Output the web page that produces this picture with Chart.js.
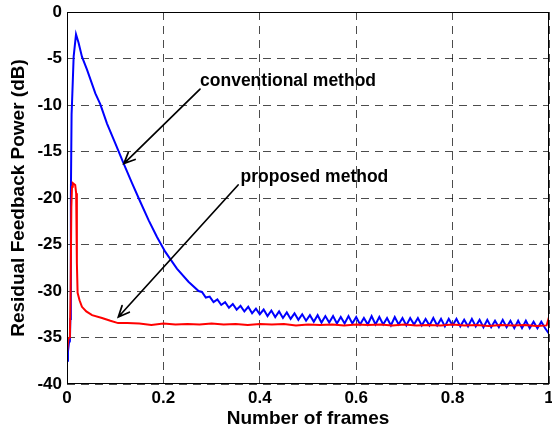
<!DOCTYPE html>
<html>
<head>
<meta charset="utf-8">
<script src="https://cdn.jsdelivr.net/npm/chart.js@4.4.1/dist/chart.umd.min.js"></script>
<style>
  html, body { margin: 0; padding: 0; background: #fff; }
  #wrap { width: 552px; height: 432px; position: relative; }
</style>
</head>
<body>
<div id="wrap"><canvas id="c" width="552" height="432"></canvas></div>
<script>
// ---- data ----
const xTicks = [0, 0.2, 0.4, 0.6, 0.8, 1];
const xTickLabels = ['0', '0.2', '0.4', '0.6', '0.8', '1'];
const yTicks = [-40, -35, -30, -25, -20, -15, -10, -5, 0];
const yTickLabels = ['-40', '-35', '-30', '-25', '-20', '-15', '-10', '-5', '0'];

const blueX = [0, 0.002, 0.004, 0.006, 0.007, 0.008, 0.0095, 0.0104, 0.0138, 0.0187,
  0.024, 0.031, 0.0415, 0.0588, 0.069, 0.083, 0.100, 0.1176, 0.1349, 0.152,
  0.1695, 0.1867, 0.204, 0.228, 0.252, 0.273,
  0.280, 0.288, 0.296, 0.304, 0.312, 0.320, 0.328, 0.336, 0.344, 0.352,
  0.360, 0.368, 0.376, 0.384, 0.392, 0.400, 0.408, 0.416, 0.424, 0.432,
  0.440, 0.448, 0.456, 0.464, 0.472, 0.480, 0.488, 0.496, 0.504, 0.512,
  0.520, 0.528, 0.536, 0.544, 0.552, 0.560, 0.568, 0.576, 0.584, 0.592,
  0.600, 0.608, 0.616, 0.624, 0.632, 0.640, 0.648, 0.656, 0.664, 0.672,
  0.680, 0.688, 0.696, 0.704, 0.712, 0.720, 0.728, 0.736, 0.744, 0.752,
  0.760, 0.768, 0.776, 0.784, 0.792, 0.800, 0.808, 0.816, 0.824, 0.832,
  0.840, 0.848, 0.856, 0.864, 0.872, 0.880, 0.888, 0.896, 0.904, 0.912,
  0.920, 0.928, 0.936, 0.944, 0.952, 0.960, 0.968, 0.976, 0.984, 0.992,
  1.000];
const blueY = [-37.5, -36.5, -35.6, -35.4, -33.0, -20.0, -11.0, -9.8, -4.8, -2.4,
  -3.3, -4.8, -6.2, -8.75, -9.9, -12.0, -14.1, -16.3, -18.4, -20.4,
  -22.4, -24.2, -25.8, -27.6, -29.0, -30.0,
  -30.1, -30.7, -30.6, -31.2, -30.9, -31.5, -31.2, -31.8, -31.4, -32.0,
  -31.6, -32.2, -31.7, -32.4, -31.9, -32.5, -32.0, -32.7, -32.1, -32.8,
  -32.2, -32.9, -32.3, -33.0, -32.4, -33.1, -32.5, -33.2, -32.6, -33.3,
  -32.6, -33.4, -32.7, -33.4, -32.7, -33.5, -32.8, -33.5, -32.7, -33.5,
  -32.8, -33.6, -32.9, -33.6, -32.7, -33.6, -32.8, -33.6, -32.9, -33.7,
  -32.8, -33.6, -32.9, -33.7, -32.9, -33.6, -32.9, -33.7, -33.0, -33.7,
  -32.9, -33.7, -33.0, -33.8, -33.0, -33.7, -33.0, -33.8, -33.1, -33.8,
  -33.0, -33.8, -33.1, -33.9, -33.1, -33.9, -33.2, -33.9, -33.1, -33.9,
  -33.2, -34.0, -33.2, -34.0, -33.2, -34.0, -33.3, -34.0, -33.3, -34.0,
  -34.6];

const redX = [0, 0.003, 0.006, 0.0075, 0.009, 0.0104, 0.012, 0.0145, 0.017, 0.019,
  0.0205, 0.022, 0.026, 0.031, 0.040, 0.052, 0.0726, 0.090, 0.106, 0.125,
  0.150, 0.175, 0.200, 0.225, 0.250, 0.275, 0.300, 0.325, 0.350, 0.375,
  0.400, 0.425, 0.450, 0.475, 0.500, 0.525, 0.550, 0.575, 0.600, 0.625,
  0.650, 0.675, 0.700, 0.725, 0.750, 0.775, 0.800, 0.825, 0.850, 0.875,
  0.900, 0.925, 0.950, 0.975, 0.995, 1.000];
const redY = [-36.6, -35.1, -35.0, -30.0, -21.0, -18.8, -18.4, -18.5, -18.6, -19.5,
  -27.0, -30.2, -31.0, -31.7, -32.2, -32.6, -32.9, -33.2, -33.45, -33.45,
  -33.5, -33.65, -33.5, -33.6, -33.55, -33.6, -33.5, -33.6, -33.55, -33.65,
  -33.55, -33.6, -33.55, -33.7, -33.6, -33.65, -33.6, -33.7, -33.6, -33.65,
  -33.6, -33.7, -33.6, -33.7, -33.65, -33.7, -33.6, -33.7, -33.65, -33.75,
  -33.65, -33.7, -33.65, -33.75, -33.7, -32.8];

// annotation texts and arrows (data coordinates)
const noteTexts = ['conventional method', 'proposed method'];
const noteTextAt = [[0.276, -8.0], [0.360, -18.3]];
const arrowFrom = [[0.276, -8.3], [0.355, -18.6]];
const arrowTo = [[0.118, -16.3], [0.1065, -32.8]];

// ---- chart ----
const FONT = '"Liberation Sans", Arial, Helvetica, sans-serif';

function toPoints(xs, ys) { return xs.map((x, i) => ({ x: x, y: ys[i] })); }

const framePlugin = {
  id: 'frame',
  afterDatasetsDraw(chart) {
    const { ctx, chartArea: a, scales } = chart;
    const sx = scales.x, sy = scales.y;
    ctx.save();
    // axes box
    ctx.strokeStyle = '#000';
    ctx.lineWidth = 1;
    ctx.strokeRect(Math.round(a.left) + 0.5, Math.round(a.top) + 0.5,
      Math.round(a.right - a.left) - 1, Math.round(a.bottom - a.top) - 1);
    // arrows
    ctx.lineWidth = 1.7;
    ctx.lineCap = 'round';
    for (let i = 0; i < arrowFrom.length; i++) {
      const x1 = sx.getPixelForValue(arrowFrom[i][0]);
      const y1 = sy.getPixelForValue(arrowFrom[i][1]);
      const x2 = sx.getPixelForValue(arrowTo[i][0]);
      const y2 = sy.getPixelForValue(arrowTo[i][1]);
      const ang = Math.atan2(y2 - y1, x2 - x1);
      const L = 12, w = 0.42;
      ctx.beginPath();
      ctx.moveTo(x1, y1);
      ctx.lineTo(x2, y2);
      ctx.moveTo(x2 - L * Math.cos(ang - w), y2 - L * Math.sin(ang - w));
      ctx.lineTo(x2, y2);
      ctx.lineTo(x2 - L * Math.cos(ang + w), y2 - L * Math.sin(ang + w));
      ctx.stroke();
    }
    // texts
    ctx.fillStyle = '#000';
    ctx.font = 'bold 17.5px ' + FONT;
    ctx.textBaseline = 'alphabetic';
    ctx.textAlign = 'left';
    for (let i = 0; i < noteTexts.length; i++) {
      ctx.fillText(noteTexts[i], sx.getPixelForValue(noteTextAt[i][0]),
        sy.getPixelForValue(noteTextAt[i][1]));
    }
    ctx.restore();
  }
};

new Chart(document.getElementById('c'), {
  type: 'line',
  data: {
    datasets: [
      { label: 'proposed method', data: toPoints(redX, redY), borderColor: '#ff0000',
        borderWidth: 2, pointRadius: 0, tension: 0, fill: false },
      { label: 'conventional method', data: toPoints(blueX, blueY), borderColor: '#0000ff',
        borderWidth: 2, pointRadius: 0, tension: 0, fill: false }
    ]
  },
  options: {
    responsive: false,
    animation: false,
    events: [],
    layout: { padding: { left: 0, top: 12, right: 3, bottom: 0 } },
    plugins: { legend: { display: false }, tooltip: { enabled: false } },
    scales: {
      x: {
        type: 'linear', min: 0, max: 1,
        afterBuildTicks: s => { s.ticks = xTicks.map(v => ({ value: v })); },
        afterFit: s => { s.height = 48; s.paddingLeft = 0; s.paddingRight = 0; },
        ticks: {
          autoSkip: false, maxRotation: 0, padding: 4, color: '#000',
          font: { family: FONT, size: 17, weight: 'bold' },
          callback: (v, i) => xTickLabels[i]
        },
        grid: { color: 'rgba(0,0,0,0.7)', lineWidth: 1, drawTicks: false },
        border: { display: false, dash: [8, 6] },
        title: { display: true, text: 'Number of frames', color: '#000',
          font: { family: FONT, size: 19, weight: 'bold', lineHeight: 1.0 } }
      },
      y: {
        type: 'linear', min: -40, max: 0,
        afterBuildTicks: s => { s.ticks = yTicks.map(v => ({ value: v })); },
        afterFit: s => { s.width = 67; s.paddingTop = 0; s.paddingBottom = 0; },
        ticks: {
          autoSkip: false, padding: 5, color: '#000',
          font: { family: FONT, size: 17, weight: 'bold' },
          callback: (v, i) => yTickLabels[i]
        },
        grid: { color: 'rgba(0,0,0,0.7)', lineWidth: 1, drawTicks: false },
        border: { display: false, dash: [8, 6] },
        title: { display: true, text: 'Residual Feedback Power (dB)', color: '#000',
          font: { family: FONT, size: 19, weight: 'bold', lineHeight: 1.55 } }
      }
    }
  },
  plugins: [framePlugin]
});
</script>
</body>
</html>
